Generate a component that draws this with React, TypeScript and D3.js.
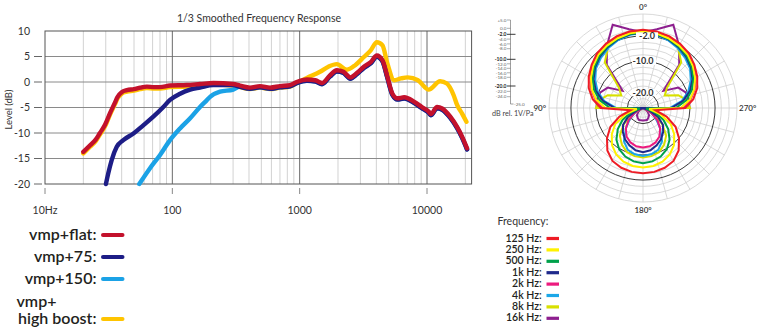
import React from "react";
import * as d3 from "d3";

const FONT = "Lato, 'Open Sans', sans-serif";
const INK = "#231f20";

// ---------- Frequency response data ----------
const chartTitle = "1/3 Smoothed Frequency Response";
const levelTicks = [10, 5, 0, -5, -10, -15, -20];
const decadeTicks = [10, 100, 1000, 10000];
const decadeLabels = ["10Hz", "100", "1000", "10000"];

const flatFreq = [20, 22.6, 25, 27, 29.6, 32.4, 35.5, 37, 40, 44, 50, 56, 63, 72, 80, 96, 130, 165, 210, 300, 340, 407, 488, 585, 701, 841, 948, 1140, 1327, 1499, 1728, 1955, 2209, 2498, 2826, 3194, 3614, 4034, 4466, 4888, 5351, 5858, 6620, 7953, 9101, 10300, 10700, 12000, 13150, 15230, 17230, 18860, 20640];
const flatLevel = [-13.7, -12.4, -11.3, -10, -8.4, -6.1, -4.0, -3.0, -2.0, -1.6, -1.4, -1.1, -0.9, -1.0, -1.0, -0.7, -0.6, -0.4, -0.2, -0.4, -0.7, -1.1, -0.8, -1.1, -0.8, -0.6, 0, 0.5, 0.35, -0.2, 1.3, 2.3, 2.0, 0.9, 1.8, 3.0, 3.9, 5.2, 4.3, 1.0, -2.3, -3.2, -3.0, -3.9, -4.9, -5.8, -6.3, -4.9, -5.2, -6.8, -8.8, -10.7, -13.0];

const boostFreq = [20, 22.6, 25, 27, 29.6, 32.4, 35.5, 37, 40, 44, 50, 56, 63, 72, 80, 96, 130, 165, 210, 300, 340, 407, 488, 585, 701, 841, 948, 1140, 1444, 1682, 1955, 2345, 2731, 3194, 3614, 4034, 4466, 4888, 5521, 6244, 7061, 8485, 10302, 12678, 14321, 16193, 17233, 18863, 20407];
const boostLevel = [-14.0, -12.7, -11.6, -10.3, -8.7, -6.4, -4.3, -3.3, -2.3, -1.9, -1.7, -1.4, -1.2, -1.3, -1.3, -1.0, -0.9, -0.7, -0.5, -0.7, -1.0, -1.4, -1.1, -1.4, -1.1, -0.9, -0.2, 0.8, 2.0, 3.0, 3.5, 2.4, 3.3, 4.9, 6.2, 7.8, 7.2, 3.6, 0.35, 0.7, 0.9, 0.35, -1.5, 0.15, -0.3, -2.6, -4.5, -6.2, -7.8];

const hp75Freq = [30.1, 31.4, 33.4, 36.6, 41.2, 49.5, 59.1, 70.9, 85, 95.9, 115, 138, 165, 210, 300, 340, 407, 488, 585, 701, 841, 948, 1140, 1327, 1499, 1728, 1955, 2209, 2498, 2826, 3194, 3614, 4034, 4466, 4888, 5351, 5858, 6620, 7953, 9101, 10300, 10700, 12000, 13150, 15230, 17230, 18860, 20640];
const hp75Level = [-20, -17.9, -15.3, -12.7, -11.4, -10.1, -8.5, -6.8, -4.9, -3.5, -2.3, -1.5, -1.1, -0.6, -0.6, -0.95, -1.35, -1.05, -1.35, -1.05, -0.85, -0.25, 0.25, 0.1, -0.45, 1.05, 2.05, 1.75, 0.65, 1.55, 2.75, 3.65, 4.95, 4.05, 0.75, -2.55, -3.45, -3.25, -4.15, -5.15, -6.05, -6.55, -5.15, -5.45, -7.05, -9.05, -10.95, -13.25];

const hp150Freq = [55, 66.8, 80.1, 95.9, 115, 138, 165, 186, 198, 237, 301, 340, 407, 488, 585, 701, 841, 948, 1140, 1327, 1499, 1728, 1955, 2209, 2498, 2826, 3194, 3614, 4034, 4466, 4888, 5351, 5858, 6620, 7953, 9101, 10300, 10700, 12000, 13150, 15230, 17230, 18860, 20640];
const hp150Level = [-20, -16.9, -14.3, -11.4, -9.1, -7.1, -4.9, -3.6, -2.9, -1.9, -1.5, -0.9, -1.3, -1.0, -1.3, -1.0, -0.8, -0.2, 0.3, 0.15, -0.4, 1.1, 2.1, 1.8, 0.7, 1.6, 2.8, 3.7, 5.0, 4.1, 0.8, -2.5, -3.4, -3.2, -4.1, -5.1, -6.0, -6.5, -5.1, -5.4, -7.0, -9.0, -10.9, -13.2];

const responseNames = ["vmp+flat:", "vmp+75:", "vmp+150:", "vmp+|high boost:"];
const responseColors = ["#c3112c", "#1d1d86", "#1ba2e6", "#ffc400"];

// ---------- Polar data (0°..180° in 10° steps, mirrored for 190°..350°) ----------
const polarLabels = ["125 Hz:", "250 Hz:", "500 Hz:", "1k Hz:", "2k Hz:", "4k Hz:", "8k Hz:", "16k Hz:"];
const polarColors = ["#ee1c25", "#fff200", "#00a14b", "#1f2a8c", "#ec1a7e", "#1ba7e8", "#d8e000", "#8e1f8f"];
const p125 = [0, -0.2, -0.6, -1.3, -2.2, -3.6, -5.0, -6.6, -8.7, -11.5, -21, -17, -13, -10, -7.3, -5.5, -4.7, -4.3, -4.2];
const p250 = [-0.6, -0.8, -1.3, -2.0, -2.8, -4.2, -5.8, -7.6, -9.8, -13, -23, -19, -14.8, -12, -9.6, -7.9, -6.8, -6.2, -6.0];
const p500 = [-0.8, -1.0, -1.5, -2.3, -3.3, -4.7, -6.4, -8.4, -11, -14.5, -24, -21, -17.5, -14.5, -11.8, -9.8, -8.5, -7.7, -7.4];
const p1k = [-0.9, -1.1, -1.6, -2.5, -3.6, -5.0, -6.8, -9.0, -12, -16, -25, -23, -19.5, -16.7, -15, -13.5, -12.3, -11.3, -10.9];
const p2k = [-0.4, -0.5, -1.0, -1.7, -2.6, -4.0, -5.6, -7.4, -9.6, -12, -25, -25, -22, -19, -16.5, -14.5, -13.3, -12.6, -12.4];
const p4k = [-1.0, -1.3, -1.9, -2.9, -4.1, -5.4, -7.4, -9.6, -12.5, -16.5, -25, -25, -22, -19.5, -16.5, -12.8, -10.8, -10.0, -9.7];
const p8k = [-0.7, -1.0, -1.6, -2.7, -6.0, -15, -17, -13, -10.8, -10, -25, -25, -21, -17, -13.5, -11.5, -10, -9.4, -9.2];
const p16k = [-0.8, 0.5, 3.3, -2, -7, -16.5, -12, -10.5, -10, -10.3, -25, -25, -24, -23, -22, -21.5, -21, -21, -21];
const polarSeries = [p125, p250, p500, p1k, p2k, p4k, p8k, p16k];

const scaleLabels = ["+5.0", "0.0", "-2.0", "-4.0", "-6.0", "-8.0", "-10.0", "-12.0", "-14.0", "-16.0", "-18.0", "-20.0", "-22.0", "-24.0"];
const boldScale = ["-2.0", "-10.0", "-20.0"];
const ringLevels = [5, 2.5, 0, -2, -4, -6, -8, -10, -12, -14, -16, -18, -20, -22, -24];
const darkRings = [-2, -10, -20];
const angleLabels = ["0°", "90°", "180°", "270°"];

export default function App() {
  // frequency response scales
  const x = d3.scaleLog().domain([10, 10000]).range([45, 427]);
  const y = d3.scaleLinear().domain([-20, 10]).range([184, 31]);
  const fMax = 22400;
  const xL = x(10), xR = x(fMax), yT = y(10), yB = y(-20);
  const minor: number[] = [];
  decadeTicks.forEach((d) => d3.range(2, 10).forEach((m) => { if (d * m <= fMax) minor.push(d * m); }));
  const line = d3.line<[number, number]>().x((d) => x(d[0])).y((d) => y(d[1])).curve(d3.curveMonotoneX);
  const series = [
    { f: flatFreq, v: flatLevel },
    { f: hp75Freq, v: hp75Level },
    { f: hp150Freq, v: hp150Level },
    { f: boostFreq, v: boostLevel },
  ];
  const drawOrder = [3, 2, 1, 0];

  // polar
  const cx = 643, cy = 108;
  const r = d3.scaleLinear().domain([-25, 5]).range([0, 94]);
  const radial = d3
    .lineRadial<number>()
    .angle((_, i) => (-i * 10 * Math.PI) / 180)
    .radius((d) => r(d))
    .curve(d3.curveLinearClosed);
  const full = (v: number[]) => v.concat(v.slice(1, 18).reverse());
  const spokes = d3.range(0, 360, 15);
  const scaleY = d3.scaleLinear().domain([0, 1, 2, 5, 6, 10, 11, 13, 14]).range([20, 28.3, 34.3, 48.7, 59.3, 77.3, 86, 96.7, 104]);

  return (
    <div style={{ position: "fixed", left: 0, top: 0, width: 760, height: 333, background: "#fff" }}>
      <svg width={760} height={333} style={{ display: "block", fontFamily: FONT }}>
        <rect width={760} height={333} fill="#fff" />
        {/* ---------- Frequency response ---------- */}
        <text x={259} y={22} textAnchor="middle" fontSize={10.5} fill="#333">{chartTitle}</text>
        {minor.map((f) => (
          <line key={"m" + f} x1={x(f)} x2={x(f)} y1={yT} y2={yB} stroke="#d2d2d2" strokeWidth={1} />
        ))}
        {levelTicks.slice(1, -1).map((t) => (
          <line key={"h" + t} x1={xL} x2={xR} y1={y(t)} y2={y(t)} stroke="#8a8a8a" strokeWidth={1} />
        ))}
        {decadeTicks.slice(1).map((f) => (
          <line key={"M" + f} x1={x(f)} x2={x(f)} y1={yT} y2={yB} stroke="#6a6a6a" strokeWidth={1} />
        ))}
        <rect x={xL} y={yT} width={xR - xL} height={yB - yT} fill="none" stroke="#555" strokeWidth={1} />
        {levelTicks.map((t, i) => (
          <g key={"yt" + t}>
            <text x={30} y={y(t) + 3.6} textAnchor="end" fontSize={10.5} fill="#333">{t}</text>
            {i > 0 && <line x1={34} x2={42} y1={y(t)} y2={y(t)} stroke="#666" strokeWidth={1} />}
          </g>
        ))}
        {decadeTicks.map((f, i) => (
          <g key={"xt" + f}>
            <line x1={x(f)} x2={x(f)} y1={188} y2={194} stroke="#888" strokeWidth={1} />
            <text x={x(f)} y={214} textAnchor="middle" fontSize={10.5} fill="#333">{decadeLabels[i]}</text>
          </g>
        ))}
        <text transform={`translate(12,${(yT + yB) / 2 + 2}) rotate(-90)`} textAnchor="middle" fontSize={9.5} fill="#333">Level (dB)</text>
        {drawOrder.map((si) => (
          <path
            key={"s" + si}
            d={line(series[si].f.map((f, k) => [f, series[si].v[k]] as [number, number])) || ""}
            fill="none"
            stroke={responseColors[si]}
            strokeWidth={4.4}
            strokeLinejoin="round"
            strokeLinecap="round"
          />
        ))}
        {/* legend */}
        {responseNames.map((name, i) => {
          const sy = 235 + i * 22 + (i === 3 ? 18 : 0);
          const parts = name.split("|");
          return (
            <g key={"lg" + i}>
              {parts.length === 1 ? (
                <text x={96.5} y={sy + 4.8} textAnchor="end" fontSize={16} fontWeight={600} fill={INK}>{parts[0]}</text>
              ) : (
                <>
                  <text x={16.5} y={sy - 12} fontSize={16} fontWeight={600} fill={INK}>{parts[0]}</text>
                  <text x={96.5} y={sy + 4.8} textAnchor="end" fontSize={16} fontWeight={600} fill={INK}>{parts[1]}</text>
                </>
              )}
              <line x1={103} x2={122.5} y1={sy} y2={sy} stroke={responseColors[i]} strokeWidth={4} strokeLinecap="round" />
            </g>
          );
        })}

        {/* ---------- Polar plot ---------- */}
        <g transform={`translate(${cx},${cy})`}>
          {spokes.map((a) => (
            <line
              key={"sp" + a}
              x1={0}
              y1={0}
              x2={r(5) * Math.sin((a * Math.PI) / 180)}
              y2={-r(5) * Math.cos((a * Math.PI) / 180)}
              stroke="#cfcfcf"
              strokeWidth={0.8}
            />
          ))}
          {ringLevels.map((lv) => (
            <circle
              key={"rg" + lv}
              r={r(lv)}
              fill="none"
              stroke={darkRings.includes(lv) ? "#3a3a3a" : "#cfcfcf"}
              strokeWidth={darkRings.includes(lv) ? 1 : 0.8}
            />
          ))}
          {polarSeries
            .map((v, i) => ({ v, i }))
            .reverse()
            .map(({ v, i }) => (
              <path key={"pp" + i} d={radial(full(v)) || ""} fill="none" stroke={polarColors[i]} strokeWidth={2} strokeLinejoin="miter" />
            ))}
          {darkRings.map((lv, k) => (
            <g key={"rl" + lv}>
              <rect x={k === 0 ? -7 : -11} y={-r(lv) - 3.6} width={k === 0 ? 22 : 24} height={7.6} fill="#fff" />
              <text x={k === 0 ? 4 : 0} y={-r(lv) + 3.3} textAnchor="middle" fontSize={9} fontWeight={700} fill="#333">
                {lv.toFixed(1)}
              </text>
            </g>
          ))}
        </g>
        <text x={cx} y={10} textAnchor="middle" fontSize={8} fontWeight={600} fill="#333">{angleLabels[0]}</text>
        <text x={546} y={111} textAnchor="end" fontSize={8} fontWeight={600} fill="#333">{angleLabels[1]}</text>
        <text x={cx} y={213} textAnchor="middle" fontSize={8} fontWeight={600} fill="#333">{angleLabels[2]}</text>
        <text x={739} y={111} textAnchor="start" fontSize={8} fontWeight={600} fill="#333">{angleLabels[3]}</text>

        {/* polar dB scale */}
        <line x1={510.5} x2={510.5} y1={scaleY(0)} y2={scaleY(14)} stroke="#777" strokeWidth={0.7} />
        <line x1={510.5} x2={513.5} y1={scaleY(14)} y2={scaleY(14)} stroke="#777" strokeWidth={0.7} />
        {scaleLabels.map((s, i) => {
          const b = boldScale.includes(s);
          return (
            <g key={"sl" + s}>
              <text x={506.5} y={scaleY(i) + 1.7} textAnchor="end" fontSize={b ? 5 : 4.6} fontWeight={b ? 700 : 400} fill={b ? "#222" : "#666"}>{s}</text>
              <line x1={507} x2={b ? 515.5 : 510.5} y1={scaleY(i)} y2={scaleY(i)} stroke={b ? "#222" : "#777"} strokeWidth={b ? 0.9 : 0.6} />
            </g>
          );
        })}
        <text x={514} y={scaleY(14) + 1.7} fontSize={4.6} fill="#666">-25.0</text>
        <text x={492} y={116} fontSize={7.2} fill="#444">dB rel. 1V/Pa</text>

        {/* polar legend */}
        <text x={497.5} y={225} fontSize={10.5} fill="#333">Frequency:</text>
        {polarLabels.map((lab, i) => {
          const by = 241.5 + i * 11.4;
          return (
            <g key={"pl" + i}>
              <text x={541.7} y={by} textAnchor="end" fontSize={10.5} fontWeight={600} fill={INK}>{lab}</text>
              <rect x={546.5} y={by - 4.6} width={12.5} height={3.2} fill={polarColors[i]} />
            </g>
          );
        })}
      </svg>
    </div>
  );
}
